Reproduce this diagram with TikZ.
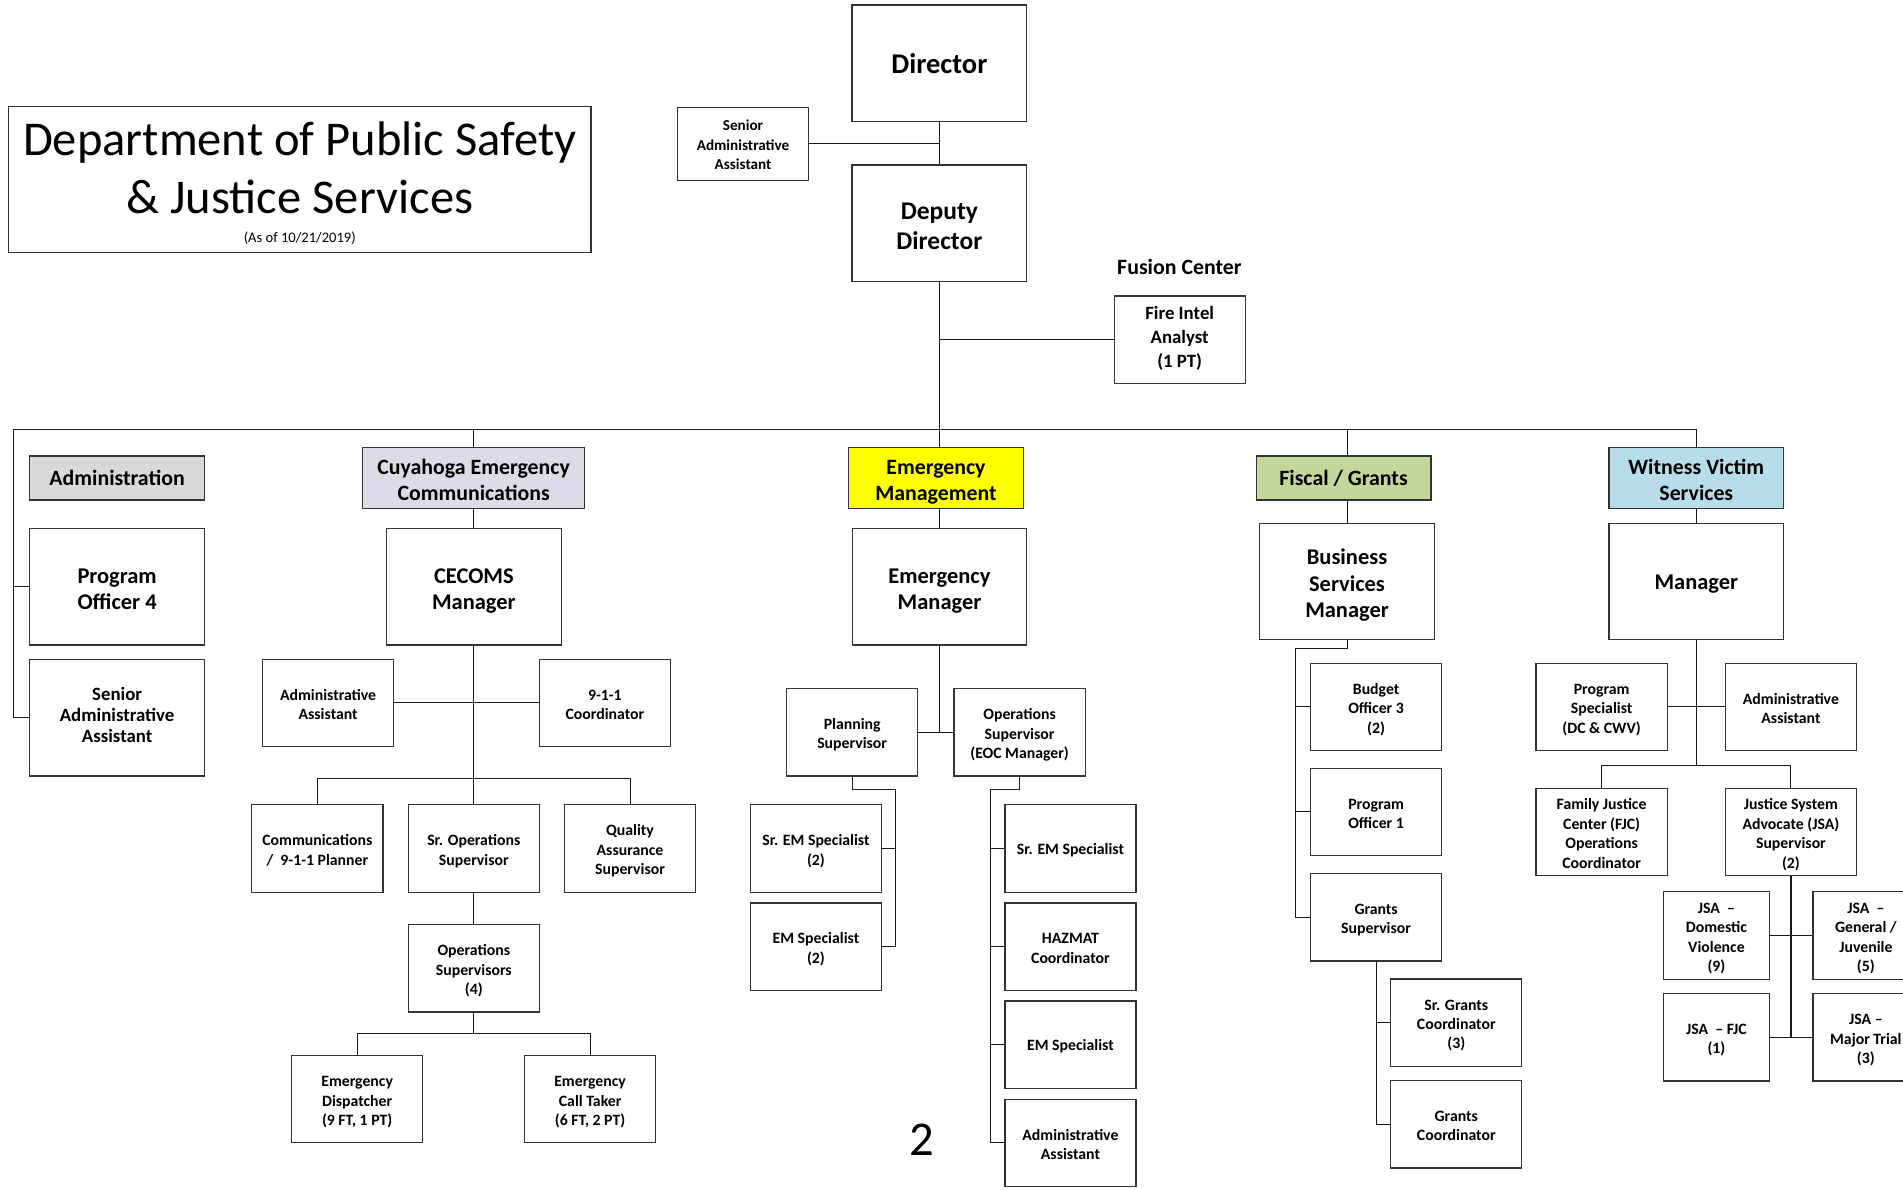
\documentclass[tikz,border=0pt]{standalone}
\usepackage{fontspec}
\setmainfont{Carlito}
\usetikzlibrary{backgrounds}
\definecolor{admgray}{HTML}{D9D9D9}
\definecolor{cecpurple}{HTML}{DFDAE8}
\definecolor{emyellow}{HTML}{FFFF00}
\definecolor{fisgreen}{HTML}{C4D79B}
\definecolor{wvblue}{HTML}{B7DEE8}
\newcommand{\mystrut}{\rule[-0.28em]{0pt}{1.28em}}
\newcommand{\fl}{\rule{0pt}{1.15em}}
\tikzset{
  conn/.style={line width=0.8pt, draw=black!90},
  box/.style={draw=black!80, line width=1.0pt, fill=white, align=center, inner sep=1pt,
    execute at begin node=\mystrut, execute at end node=\mystrut},
  bigbox/.style={box, minimum width=144pt, minimum height=96pt, font=\bfseries\fontsize{18.5}{22}\selectfont},
  smallbox/.style={box, minimum width=108pt, minimum height=72pt, font=\bfseries\fontsize{13}{16}\selectfont},
  jsabox/.style={smallbox, minimum width=87pt},
  hdrbox/.style={box, minimum width=144pt, font=\bfseries\fontsize{18}{22}\selectfont},
}
\begin{document}
\begin{tikzpicture}[x=1pt,y=-1pt]
\useasboundingbox (0,0) rectangle (1568,980);
% title
\node[draw=black!80, line width=1.0pt, minimum width=480pt, minimum height=120pt, inner sep=0pt] (title) at (247,148) {};
\node[anchor=base, font=\fontsize{40}{47}\selectfont, inner sep=0pt] (t1) at (247,128) {Department of Public Safety};
\node[anchor=base, font=\fontsize{40}{47}\selectfont, inner sep=0pt] (t2) at (247,176) {\& Justice Services};
\node[anchor=base, font=\fontsize{12}{14}\selectfont, inner sep=0pt] (t3) at (247,200) {(As of 10/21/2019)};
% top
\node[bigbox, font=\bfseries\fontsize{23.5}{28}\selectfont] (dir) at (774,52.2) {Director};
\node[bigbox, font=\bfseries\fontsize{21}{25}\selectfont] (dep) at (774,184) {\fl Deputy\\Director};
\node[box, minimum width=107.5pt, minimum height=60pt, font=\bfseries\fontsize{12.5}{16}\selectfont] (saa) at (612.2,118.4) {\fl Senior\\Administrative\\Assistant};
\node[font=\bfseries\fontsize{18}{20}\selectfont, inner sep=0pt] (fus) at (971.8,219.7) {Fusion Center};
\node[box, minimum width=108pt, minimum height=72pt, font=\bfseries\fontsize{15.5}{20}\selectfont] (fia) at (972,279.9) {Fire Intel\\Analyst\\(1 PT)};
% administration
\node[hdrbox, minimum height=36.3pt, fill=admgray] (admh) at (96.5,393.9) {Administration};
\node[bigbox] (po4) at (96.5,483.5) {\fl Program\\Officer 4};
\node[bigbox, font=\bfseries\fontsize{15.5}{17.5}\selectfont] (sadm) at (96.5,591.3) {Senior\\Administrative\\Assistant};
% CECOMS
\node[hdrbox, minimum width=183pt, minimum height=48.3pt, fill=cecpurple] (ceh) at (390.25,393.85) {\fl Cuyahoga Emergency\\Communications};
\node[bigbox] (cem) at (390.45,483.5) {\fl CECOMS\\Manager};
\node[smallbox] (caa) at (270.35,579.2) {\fl Administrative\\Assistant};
\node[smallbox] (c911) at (498.4,579.2) {\fl 9-1-1\\Coordinator};
\node[smallbox] (cpl) at (261.5,699.1) {\fl Communications\\/\ \ 9-1-1 Planner};
\node[smallbox] (sro) at (390.4,699.1) {\fl Sr. Operations\\Supervisor};
\node[smallbox] (qa) at (519.1,699.1) {\fl Quality\\Assurance\\Supervisor};
\node[smallbox] (ops) at (390.4,797.85) {\fl Operations\\Supervisors\\(4)};
\node[smallbox] (ed) at (294.3,905.65) {\fl Emergency\\Dispatcher\\(9 FT, 1 PT)};
\node[smallbox] (ect) at (486.25,905.65) {\fl Emergency\\Call Taker\\(6 FT, 2 PT)};
% Emergency management
\node[hdrbox, minimum height=48.3pt, fill=emyellow] (emh) at (771.2,393.85) {\fl Emergency\\Management};
\node[bigbox] (emm) at (774.1,483.5) {\fl Emergency\\Manager};
\node[smallbox] (pls) at (702.15,603.4) {\fl Planning\\Supervisor};
\node[smallbox] (oss) at (840.1,603.4) {\fl Operations\\Supervisor\\(EOC Manager)};
\node[smallbox] (srem2) at (672.3,699.1) {\fl Sr. EM Specialist\\(2)};
\node[smallbox] (ems2) at (672.3,780) {\fl EM Specialist\\(2)};
\node[smallbox] (srem) at (882,699.1) {Sr. EM Specialist};
\node[smallbox] (haz) at (882,780) {\fl HAZMAT\\Coordinator};
\node[smallbox] (emsp) at (882,860.75) {EM Specialist};
\node[smallbox] (emaa) at (882,941.75) {\fl Administrative\\Assistant};
\node[font=\fontsize{40}{44}\selectfont, inner sep=0pt] (pg) at (759.4,939.3) {2};
% Fiscal
\node[hdrbox, minimum height=36.3pt, fill=fisgreen] (fgh) at (1107,393.85) {Fiscal / Grants};
\node[bigbox, minimum height=95.5pt] (bsm) at (1109.9,478.95) {\fl Business\\Services\\Manager};
\node[smallbox] (bo3) at (1133.85,582.45) {\fl Budget\\Officer 3\\(2)};
\node[smallbox] (po1) at (1133.85,668.95) {\fl Program\\Officer 1};
\node[smallbox] (gs) at (1133.85,755.75) {\fl Grants\\Supervisor};
\node[smallbox] (sgc) at (1199.9,842.65) {\fl Sr. Grants\\Coordinator\\(3)};
\node[smallbox] (gc) at (1199.9,926.4) {\fl Grants\\Coordinator};
% Witness victim
\node[hdrbox, minimum height=48.3pt, fill=wvblue] (wvh) at (1397.7,393.85) {\fl Witness Victim\\Services};
\node[bigbox, minimum height=95.5pt] (wvm) at (1397.7,478.95) {Manager};
\node[smallbox] (ps) at (1319.65,582.45) {\fl Program\\Specialist\\(DC \& CWV)};
\node[smallbox] (waa) at (1475.65,582.45) {\fl Administrative\\Assistant};
\node[smallbox] (fjc) at (1319.65,685.65) {\fl Family Justice\\Center (FJC)\\Operations\\Coordinator};
\node[smallbox] (jsas) at (1475.65,685.65) {\fl Justice System\\Advocate (JSA)\\Supervisor\\(2)};
\node[jsabox] (dv) at (1414.3,770.8) {\fl JSA\ \ –\\Domestic\\Violence\\(9)};
\node[jsabox] (gj) at (1537.4,770.8) {\fl JSA\ \ –\\General /\\Juvenile\\(5)};
\node[jsabox] (fjc1) at (1414.3,854.75) {\fl JSA\ \ – FJC\\(1)};
\node[jsabox] (mt) at (1537.4,854.75) {\fl JSA –\\Major Trial\\(3)};
% connectors
\coordinate (busl) at (11.5,354);
\coordinate (rb) at (390.4,641.3);
\coordinate (rb2) at (390.4,851.7);
\coordinate (pb) at (738,650.9);
\coordinate (ob) at (816,650.9);
\coordinate (fb) at (1067.8,534.6);
\coordinate (rb3) at (1397.7,631.1);
\begin{scope}[on background layer]
\draw[conn] (dir.south) -- (dep.north);
\draw[conn] (saa.east) -- (saa.east -| dir.south);
\draw[conn] (dep.south) -- (dep.south |- emm.north);
\draw[conn] (fia.west) -- (fia.west -| dep.south);
\draw[conn] (sadm.west) -| (busl) -- (busl -| wvm.north) -- (wvm.north);
\draw[conn] (po4.west) -- (po4.west -| busl);
\draw[conn] (cem.north |- busl) -- (cem.north);
\draw[conn] (bsm.north |- busl) -- (bsm.north);
% CECOMS
\draw[conn] (cem.south) -- (cem.south |- sro.north);
\draw[conn] (caa.east) -- (c911.west);
\draw[conn] (cpl.north) -- (cpl.north |- rb) -- (qa.north |- rb) -- (qa.north);
\draw[conn] (sro.south) -- (ops.north);
\draw[conn] (ops.south) -- (ops.south |- rb2);
\draw[conn] (ed.north) -- (ed.north |- rb2) -- (ect.north |- rb2) -- (ect.north);
% EM
\draw[conn] (emm.south) -- (emm.south |- pls.east);
\draw[conn] (pls.east) -- (oss.west);
\draw[conn] (pls.south) -- (pls.south |- pb) -- (pb) -- (pb |- ems2.east) -- (ems2.east);
\draw[conn] (srem2.east) -- (srem2.east -| pb);
\draw[conn] (oss.south) -- (oss.south |- ob) -- (ob) -- (ob |- emaa.west) -- (emaa.west);
\draw[conn] (srem.west) -- (srem.west -| ob);
\draw[conn] (haz.west) -- (haz.west -| ob);
\draw[conn] (emsp.west) -- (emsp.west -| ob);
% Fiscal
\draw[conn] (bsm.south) -- (bsm.south |- fb) -- (fb) -- (fb |- gs.west) -- (gs.west);
\draw[conn] (bo3.west) -- (bo3.west -| fb);
\draw[conn] (po1.west) -- (po1.west -| fb);
\draw[conn] (gs.south) -- (gs.south |- gc.west) -- (gc.west);
\draw[conn] (sgc.west) -- (sgc.west -| gs.south);
% Witness
\draw[conn] (wvm.south) -- (rb3);
\draw[conn] (ps.east) -- (waa.west);
\draw[conn] (fjc.north) -- (fjc.north |- rb3) -- (jsas.north |- rb3) -- (jsas.north);
\draw[conn, line width=1.2pt] (jsas.south) -- (jsas.south |- mt.west);
\draw[conn] (dv.east) -- (gj.west);
\draw[conn] (fjc1.east) -- (mt.west);
\end{scope}
\end{tikzpicture}
\end{document}
